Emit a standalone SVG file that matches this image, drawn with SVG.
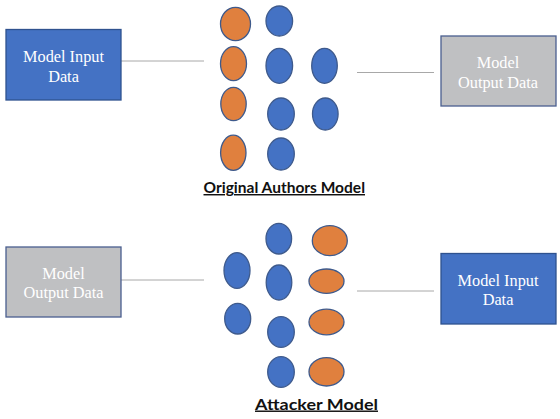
<svg xmlns="http://www.w3.org/2000/svg" width="560" height="419" viewBox="0 0 560 419">
<style>
.bg{fill:#ffffff}
.bluebox{fill:#4472C4;stroke:#2F528F;stroke-width:1.3}
.graybox{fill:#BFC0C2;stroke:#4A5F8F;stroke-width:1.3}
.bt{font-family:"Liberation Serif","Times New Roman",serif;font-size:16.3px;fill:#ffffff;text-anchor:middle}
.o{fill:#E0803E;stroke:#3E5A8C;stroke-width:1.3}
.b{fill:#4472C4;stroke:#3E5A8C;stroke-width:1.3}
.lbl{font-family:Lato,"Open Sans","Liberation Sans",sans-serif;font-weight:bold;font-size:14.5px;fill:#111111;text-decoration:underline}
.conn{stroke:#A8A8A8;stroke-width:1;fill:none}
</style>
<rect class="bg" x="0" y="0" width="560" height="419"/>
<g id="connectors">
<line class="conn" x1="121" y1="61" x2="204" y2="61"/>
<line class="conn" x1="357" y1="72.5" x2="434" y2="72.5"/>
<line class="conn" x1="121" y1="280" x2="204" y2="280"/>
<line class="conn" x1="357" y1="291" x2="434" y2="291"/>
</g>
<g id="top-input">
<rect class="bluebox" x="6" y="29.5" width="115" height="70.5"/>
<text class="bt" x="63.5" y="61.5">Model Input</text>
<text class="bt" x="63.5" y="81.5">Data</text>
</g>
<g id="top-output">
<rect class="graybox" x="441" y="36" width="115" height="70"/>
<text class="bt" x="498" y="68">Model</text>
<text class="bt" x="498" y="87.5">Output Data</text>
</g>
<g id="top-model">
<ellipse class="o" cx="235.5" cy="24" rx="15" ry="16.7"/>
<ellipse class="o" cx="233.5" cy="63.7" rx="13" ry="17"/>
<ellipse class="o" cx="233.5" cy="104" rx="12.7" ry="16.7"/>
<ellipse class="o" cx="233.3" cy="152.8" rx="12.7" ry="17.6"/>
<ellipse class="b" cx="279.3" cy="21" rx="13.3" ry="15"/>
<ellipse class="b" cx="279.3" cy="65.8" rx="13.3" ry="17.5"/>
<ellipse class="b" cx="281" cy="114" rx="13.3" ry="16"/>
<ellipse class="b" cx="281" cy="154" rx="13.3" ry="16"/>
<ellipse class="b" cx="324.5" cy="65.8" rx="12.8" ry="17.5"/>
<ellipse class="b" cx="325.3" cy="114" rx="12.8" ry="16"/>
<text class="lbl" x="203.5" y="193" textLength="161.5" lengthAdjust="spacingAndGlyphs">Original Authors Model</text>
</g>
<g id="bottom-output">
<rect class="graybox" x="6" y="247" width="115" height="70"/>
<text class="bt" x="63.5" y="278.5">Model</text>
<text class="bt" x="63.5" y="297.5">Output Data</text>
</g>
<g id="bottom-input">
<rect class="bluebox" x="441" y="253.5" width="115" height="70.5"/>
<text class="bt" x="498" y="285.5">Model Input</text>
<text class="bt" x="498" y="305">Data</text>
</g>
<g id="bottom-model">
<ellipse class="b" cx="237" cy="270.5" rx="13" ry="17.8"/>
<ellipse class="b" cx="237.7" cy="318.7" rx="13" ry="15.3"/>
<ellipse class="b" cx="278.8" cy="238.7" rx="12.8" ry="15.3"/>
<ellipse class="b" cx="279" cy="282.5" rx="12.8" ry="17.5"/>
<ellipse class="b" cx="281" cy="332" rx="13.3" ry="15.3"/>
<ellipse class="b" cx="281" cy="372" rx="13.3" ry="15.3"/>
<ellipse class="o" cx="329.8" cy="240.7" rx="17.5" ry="15"/>
<ellipse class="o" cx="326.5" cy="281.2" rx="17.5" ry="12.2"/>
<ellipse class="o" cx="326.5" cy="322" rx="17.5" ry="12.8"/>
<ellipse class="o" cx="326.5" cy="371.8" rx="17.5" ry="14.2"/>
<text class="lbl" x="255" y="409.5" textLength="123" lengthAdjust="spacingAndGlyphs">Attacker Model</text>
</g>
</svg>
